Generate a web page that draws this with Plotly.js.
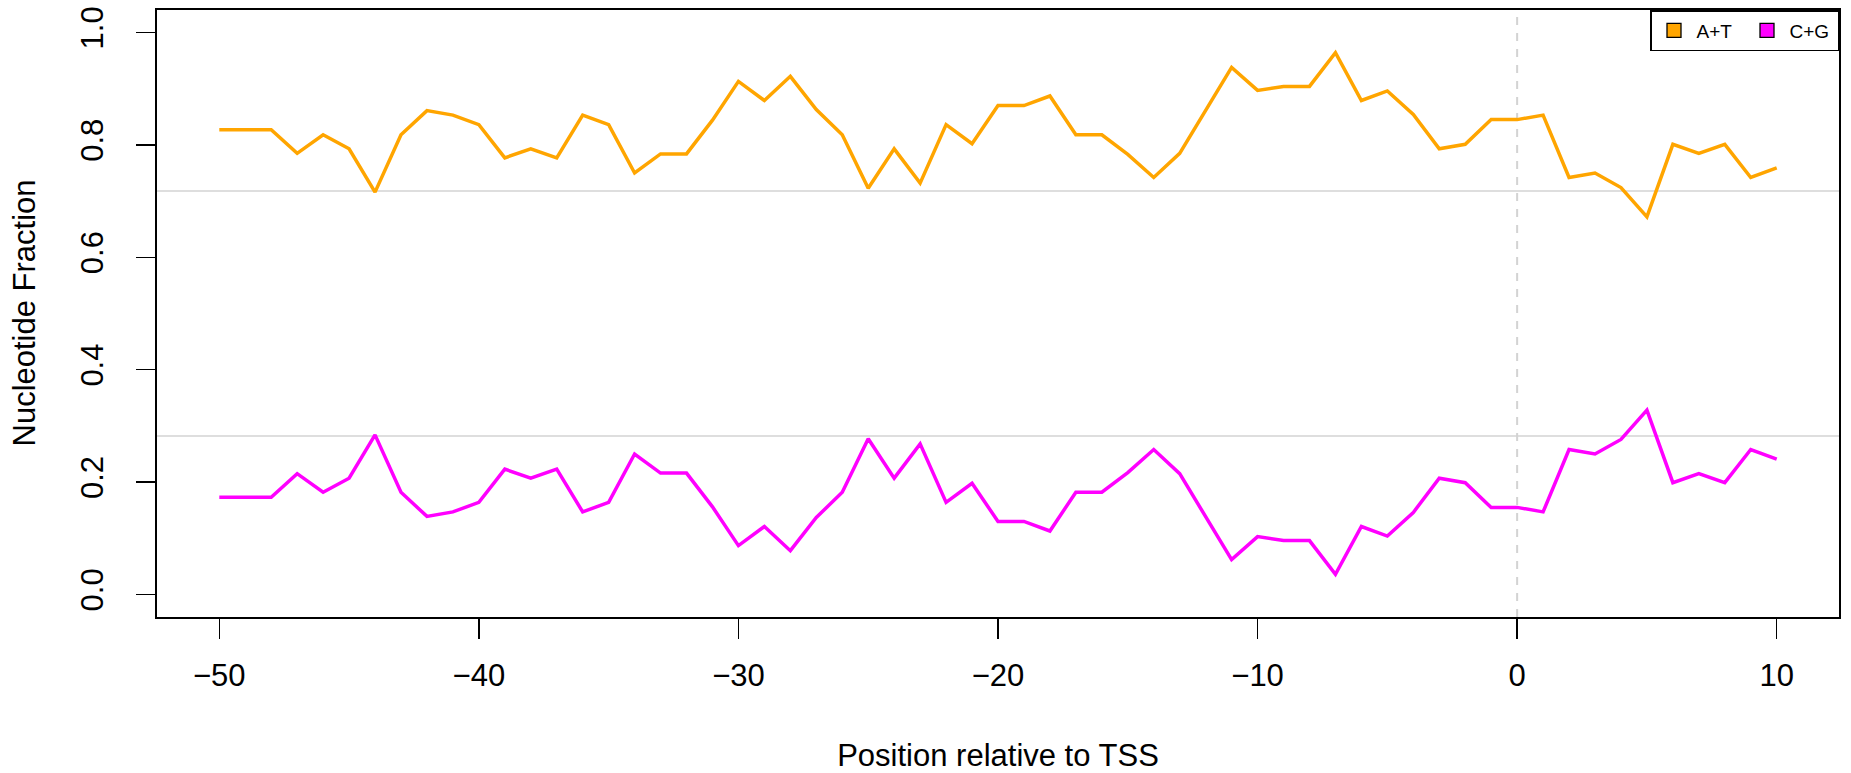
<!DOCTYPE html>
<html>
<head>
<meta charset="utf-8">
<script src="https://cdn.plot.ly/plotly-3.0.1.min.js"></script>
<style>
  html, body { margin: 0; padding: 0; background: #ffffff; }
  #chart { width: 1851px; height: 773px; }
</style>
</head>
<body>
<div id="chart"></div>
<script>
// Positions relative to TSS
const positions = [-50,-49,-48,-47,-46,-45,-44,-43,-42,-41,-40,-39,-38,-37,-36,-35,-34,-33,-32,-31,
  -30,-29,-28,-27,-26,-25,-24,-23,-22,-21,-20,-19,-18,-17,-16,-15,-14,-13,-12,-11,
  -10,-9,-8,-7,-6,-5,-4,-3,-2,-1,0,1,2,3,4,5,6,7,8,9,10];

// A+T fraction per position
const atFraction = [0.827,0.827,0.827,0.785,0.818,0.793,0.716,0.818,0.861,0.853,
  0.836,0.777,0.793,0.777,0.853,0.836,0.750,0.784,0.784,0.844,
  0.913,0.879,0.922,0.863,0.818,0.723,0.793,0.732,0.836,0.802,
  0.870,0.870,0.887,0.818,0.818,0.783,0.742,0.785,0.862,0.938,
  0.897,0.904,0.904,0.964,0.879,0.896,0.854,0.793,0.801,0.845,
  0.845,0.853,0.742,0.750,0.724,0.672,0.801,0.785,0.801,0.742,0.759];

// C+G fraction per position
const cgFraction = [0.173,0.173,0.173,0.215,0.182,0.207,0.284,0.182,0.139,0.147,
  0.164,0.223,0.207,0.223,0.147,0.164,0.250,0.216,0.216,0.156,
  0.087,0.121,0.078,0.137,0.182,0.277,0.207,0.268,0.164,0.198,
  0.130,0.130,0.113,0.182,0.182,0.217,0.258,0.215,0.138,0.062,
  0.103,0.096,0.096,0.036,0.121,0.104,0.146,0.207,0.199,0.155,
  0.155,0.147,0.258,0.250,0.276,0.328,0.199,0.215,0.199,0.258,0.241];

// Reference (background) levels
const atReference = 0.718;
const cgReference = 0.282;
const tssPosition = 0;

const seriesNames = ["A+T", "C+G"];
const seriesColors = ["#FFA500", "#FF00FF"];

const xTickVals = [-50, -40, -30, -20, -10, 0, 10];
const yTickVals = [0, 0.2, 0.4, 0.6, 0.8, 1.0];
const yTickText = ["0.0", "0.2", "0.4", "0.6", "0.8", "1.0"];

const xTitle = "Position relative to TSS";
const yTitle = "Nucleotide Fraction";

const FONT = "Liberation Sans, Arial, Helvetica, sans-serif";

const traces = [
  { x: positions, y: atFraction, type: "scatter", mode: "lines", name: seriesNames[0],
    line: { color: seriesColors[0], width: 3.5 }, showlegend: false, hoverinfo: "x+y" },
  { x: positions, y: cgFraction, type: "scatter", mode: "lines", name: seriesNames[1],
    line: { color: seriesColors[1], width: 3.5 }, showlegend: false, hoverinfo: "x+y" },
  // legend entries (filled squares, as in the original)
  { x: [null], y: [null], type: "scatter", mode: "markers", name: seriesNames[0],
    marker: { symbol: "square", size: 14, color: seriesColors[0], line: { color: "#000", width: 1.3 } } },
  { x: [null], y: [null], type: "scatter", mode: "markers", name: seriesNames[1],
    marker: { symbol: "square", size: 14, color: seriesColors[1], line: { color: "#000", width: 1.3 } } }
];

const layout = {
  width: 1851, height: 773,
  paper_bgcolor: "#ffffff", plot_bgcolor: "#ffffff",
  margin: { l: 157, r: 12, t: 9.5, b: 155.5, pad: 0 },
  font: { family: FONT, size: 31, color: "#000" },
  showlegend: true,
  legend: {
    orientation: "h", x: 1, xanchor: "right", y: 1, yanchor: "top",
    bgcolor: "#ffffff", bordercolor: "#000", borderwidth: 1.5,
    font: { family: FONT, size: 19, color: "#000" },
    entrywidth: 43, entrywidthmode: "pixels", itemwidth: 35, tracegroupgap: 0
  },
  xaxis: {
    range: [-52.4, 12.4], tickmode: "array", tickvals: xTickVals,
    ticks: "outside", ticklen: 20, tickwidth: 1.3, tickcolor: "#000",
    ticklabelstandoff: 10,
    showline: true, linecolor: "#000", linewidth: 2, mirror: true,
    showgrid: false, zeroline: false,
    tickfont: { family: FONT, size: 31, color: "#000" },
    title: { text: xTitle, font: { family: FONT, size: 31, color: "#000" }, standoff: 52 }
  },
  yaxis: {
    range: [-0.04, 1.04], tickmode: "array", tickvals: yTickVals, ticktext: yTickText,
    tickangle: -90,
    ticks: "outside", ticklen: 19, tickwidth: 1.3, tickcolor: "#000",
    ticklabelstandoff: 21,
    showline: true, linecolor: "#000", linewidth: 2, mirror: true,
    showgrid: false, zeroline: false,
    tickfont: { family: FONT, size: 31, color: "#000" }
  },
  annotations: [
    { text: yTitle, xref: "paper", yref: "paper", x: 0, y: 0.5, xanchor: "center", yanchor: "middle",
      xshift: -133, textangle: -90, showarrow: false,
      font: { family: FONT, size: 31, color: "#000" } }
  ],
  shapes: [
    { type: "line", xref: "paper", x0: 0, x1: 1, yref: "y", y0: atReference, y1: atReference,
      line: { color: "#D3D3D3", width: 1.6 }, layer: "below" },
    { type: "line", xref: "paper", x0: 0, x1: 1, yref: "y", y0: cgReference, y1: cgReference,
      line: { color: "#D3D3D3", width: 1.6 }, layer: "below" },
    { type: "line", xref: "x", x0: tssPosition, x1: tssPosition, yref: "paper", y0: 0, y1: 1,
      line: { color: "#D3D3D3", width: 2, dash: "8px,8px" }, layer: "below" }
  ]
};

Plotly.newPlot("chart", traces, layout, { displayModeBar: false, staticPlot: true });
</script>
</body>
</html>
